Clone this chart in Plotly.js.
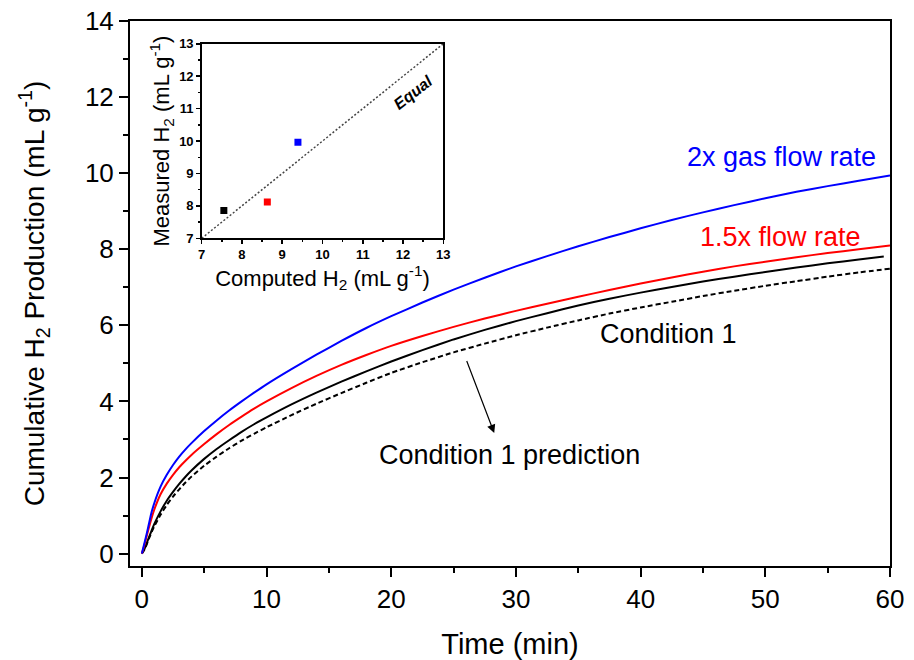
<!DOCTYPE html>
<html><head><meta charset="utf-8">
<script src="https://cdn.plot.ly/plotly-3.0.1.min.js"></script>
<style>body{margin:0;background:#fff}#chart{width:914px;height:660px}</style>
</head><body><div id="chart"></div>
<script>
// Main chart data (time in min, cumulative H2 in mL/g)
const time = [0, 0.25, 0.5, 0.75, 1, 1.5, 2, 2.5, 3, 3.5, 4, 5, 6, 7, 8, 9, 10, 12, 14, 16, 18, 20, 22.5, 25, 27.5, 30, 32.5, 35, 37.5, 40, 42.5, 45, 47.5, 50, 52.5, 55, 57.5, 60];
const timeCond1 = [0, 0.25, 0.5, 0.75, 1, 1.5, 2, 2.5, 3, 3.5, 4, 5, 6, 7, 8, 9, 10, 12, 14, 16, 18, 20, 22.5, 25, 27.5, 30, 32.5, 35, 37.5, 40, 42.5, 45, 47.5, 50, 52.5, 55, 57.5, 59.5];
const flow2x = [0, 0.33, 0.68, 1.05, 1.33, 1.76, 2.07, 2.33, 2.55, 2.74, 2.91, 3.22, 3.50, 3.76, 4.00, 4.23, 4.45, 4.85, 5.23, 5.59, 5.93, 6.24, 6.60, 6.94, 7.25, 7.55, 7.82, 8.08, 8.32, 8.55, 8.77, 8.97, 9.16, 9.34, 9.51, 9.66, 9.80, 9.94];
const flow15x = [0, 0.28, 0.60, 0.90, 1.16, 1.56, 1.84, 2.07, 2.27, 2.44, 2.60, 2.88, 3.14, 3.38, 3.60, 3.81, 4.00, 4.35, 4.67, 4.96, 5.22, 5.46, 5.72, 5.96, 6.18, 6.38, 6.57, 6.75, 6.93, 7.10, 7.26, 7.41, 7.55, 7.67, 7.79, 7.90, 8.00, 8.10];
const cond1 = [0, 0.15, 0.37, 0.58, 0.78, 1.11, 1.39, 1.62, 1.83, 2.02, 2.19, 2.49, 2.75, 2.98, 3.20, 3.40, 3.58, 3.92, 4.23, 4.52, 4.79, 5.05, 5.35, 5.63, 5.88, 6.11, 6.32, 6.52, 6.70, 6.86, 7.01, 7.15, 7.28, 7.40, 7.52, 7.63, 7.73, 7.81];
const cond1Pred = [0, 0.13, 0.34, 0.54, 0.72, 1.02, 1.28, 1.50, 1.69, 1.87, 2.03, 2.31, 2.55, 2.77, 2.97, 3.15, 3.32, 3.64, 3.94, 4.22, 4.49, 4.75, 5.03, 5.29, 5.52, 5.74, 5.94, 6.13, 6.31, 6.47, 6.62, 6.77, 6.91, 7.04, 7.16, 7.28, 7.39, 7.49];
// Inset data
const computedH2 = [7.55, 8.63, 9.39];
const measuredH2 = [7.86, 8.12, 9.96];
const insetColors = ['#000000', '#ff0000', '#0000ff'];
const equalLine = [7, 13];
// Labels
const labels = ['2x gas flow rate', '1.5x flow rate', 'Condition 1', 'Condition 1 prediction'];

const F = 'Arial, "Liberation Sans", sans-serif';
const sp = {shape: 'spline', smoothing: 0.5};
const traces = [
  {x: time, y: cond1Pred, mode: 'lines', line: Object.assign({color: '#000', width: 2, dash: '5px,3px'}, sp), xaxis: 'x', yaxis: 'y'},
  {x: timeCond1, y: cond1, mode: 'lines', line: Object.assign({color: '#000', width: 2}, sp), xaxis: 'x', yaxis: 'y'},
  {x: time, y: flow15x, mode: 'lines', line: Object.assign({color: '#ff0000', width: 2}, sp), xaxis: 'x', yaxis: 'y'},
  {x: time, y: flow2x, mode: 'lines', line: Object.assign({color: '#0000ff', width: 2}, sp), xaxis: 'x', yaxis: 'y'},
  {x: equalLine, y: equalLine, mode: 'lines', line: {color: '#444', width: 1.5, dash: '2px,2px'}, xaxis: 'x2', yaxis: 'y2'},
  {x: computedH2, y: measuredH2, mode: 'markers', marker: {symbol: 'square', size: 7, color: insetColors}, xaxis: 'x2', yaxis: 'y2'}
];

const W = 760, H = 545;
const layout = {
  width: 914, height: 660,
  margin: {l: 130, r: 24, t: 21, b: 94},
  paper_bgcolor: '#fff', plot_bgcolor: '#fff',
  showlegend: false,
  font: {family: F, color: '#000'},
  xaxis: {
    range: [-0.95, 60], tickvals: [0, 10, 20, 30, 40, 50, 60],
    ticks: 'outside', ticklen: 9, tickwidth: 2, tickcolor: '#000',
    minor: {dtick: 5, tick0: 0, ticks: 'outside', ticklen: 5, tickwidth: 2, tickcolor: '#000', showgrid: false},
    showline: true, linewidth: 2, linecolor: '#000', mirror: true,
    showgrid: false, zeroline: false,
    tickfont: {size: 26, family: F},
    title: {text: 'Time (min)', font: {size: 29, family: F}, standoff: 20}
  },
  yaxis: {
    range: [-0.326, 14], tickvals: [0, 2, 4, 6, 8, 10, 12, 14],
    ticks: 'outside', ticklen: 9, tickwidth: 2, tickcolor: '#000',
    minor: {dtick: 1, tick0: 0, ticks: 'outside', ticklen: 5, tickwidth: 2, tickcolor: '#000', showgrid: false},
    showline: true, linewidth: 2, linecolor: '#000', mirror: true,
    showgrid: false, zeroline: false,
    tickfont: {size: 26, family: F},
    title: {text: 'Cumulative H<sub>2</sub> Production (mL g<sup>-1</sup>)', font: {size: 28, family: F}, standoff: 32}
  },
  xaxis2: {
    domain: [(201.7 - 130) / W, (443.3 - 130) / W], anchor: 'y2',
    range: [7, 13], dtick: 1,
    ticks: 'outside', ticklen: 4, tickwidth: 1.5, tickcolor: '#000',
    minor: {dtick: 0.5, ticks: 'outside', ticklen: 2.5, tickwidth: 1.5, tickcolor: '#000', showgrid: false},
    showline: true, linewidth: 1.5, linecolor: '#000', mirror: true,
    showgrid: false, zeroline: false,
    tickfont: {size: 13, family: F, weight: 700},
    title: {text: 'Computed H<sub>2</sub> (mL g<sup>-1</sup>)', font: {size: 22, family: F}, standoff: 4}
  },
  yaxis2: {
    domain: [(565.7 - 238) / H, (565.7 - 43.5) / H], anchor: 'x2',
    range: [7, 13], dtick: 1,
    ticks: 'outside', ticklen: 4, tickwidth: 1.5, tickcolor: '#000',
    minor: {dtick: 0.5, ticks: 'outside', ticklen: 2.5, tickwidth: 1.5, tickcolor: '#000', showgrid: false},
    showline: true, linewidth: 1.5, linecolor: '#000', mirror: true,
    showgrid: false, zeroline: false,
    tickfont: {size: 13, family: F, weight: 700},
    title: {text: 'Measured H<sub>2</sub> (mL g<sup>-1</sup>)', font: {size: 22, family: F}, standoff: 3}
  },
  annotations: [
    {x: 51.28, y: 10.43, xref: 'x', yref: 'y', text: labels[0], showarrow: false, font: {size: 27, color: '#0000ff', family: F}},
    {x: 51.2, y: 8.31, xref: 'x', yref: 'y', text: labels[1], showarrow: false, font: {size: 27, color: '#ff0000', family: F}},
    {x: 42.2, y: 5.76, xref: 'x', yref: 'y', text: labels[2], showarrow: false, font: {size: 27, color: '#000', family: F}},
    {x: 29.5, y: 2.58, xref: 'x', yref: 'y', text: labels[3], showarrow: false, font: {size: 27, color: '#000', family: F}},
    {x: 28.26, y: 3.17, ax: 26.01, ay: 5.10, xref: 'x', yref: 'y', axref: 'x', ayref: 'y', text: '', showarrow: true,
     arrowhead: 2, arrowsize: 1.4, arrowwidth: 1.2, arrowcolor: '#000'},
    {x: 12.25, y: 11.5, xref: 'x2', yref: 'y2', text: '<b><i>Equal</i></b>', showarrow: false, textangle: -38,
     font: {size: 16, color: '#000', family: F}}
  ]
};
Plotly.newPlot('chart', traces, layout, {displayModeBar: false, staticPlot: true});
</script>
</body></html>
